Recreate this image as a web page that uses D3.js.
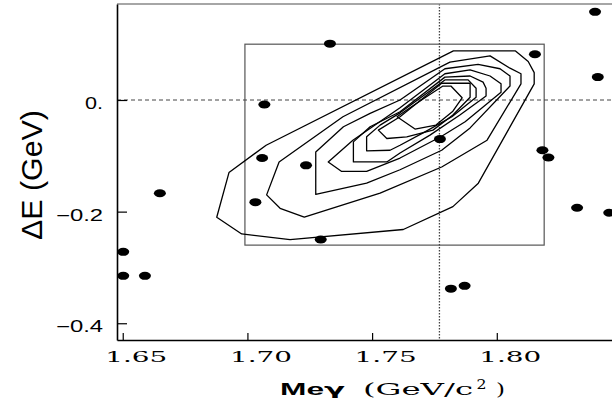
<!DOCTYPE html>
<html>
<head>
    <meta charset="utf-8">
    <title>M(e gamma) vs Delta E</title>
    <script src="https://d3js.org/d3.v7.min.js"></script>
    <style>
        body {
            margin: 0;
            background: #ffffff;
        }
        svg {
            display: block;
        }
    </style>
</head>
<body>
<script>
    // Axis ticks
    const xTicks = [1.65, 1.70, 1.75, 1.80];
    const yTicks = [0, -0.2, -0.4];

    // Nominal tau mass (dotted line) and signal box
    const tauMass = 1.777;
    const boxM = [1.699, 1.819];
    const boxE = [-0.26, 0.10];

    // Observed events: [M(e gamma), Delta E]
    const events = [
        [1.8394, 0.158], [1.8153, 0.082], [1.8405, 0.041], [1.7331, 0.101],
        [1.7068, -0.008], [1.7059, -0.104], [1.7235, -0.117], [1.7032, -0.183],
        [1.7294, -0.250], [1.7772, -0.070], [1.8183, -0.090], [1.8207, -0.103],
        [1.8322, -0.193], [1.8451, -0.202], [1.7816, -0.338], [1.7871, -0.333],
        [1.6649, -0.167], [1.6502, -0.272], [1.6502, -0.315], [1.6589, -0.315]
    ];

    // Signal MC contours, outermost first
    const contour1 = [
        [1.6877, -0.210], [1.6926, -0.130], [1.7075, -0.081], [1.7826, 0.088],
        [1.8075, 0.088], [1.8126, 0.069], [1.8150, 0.049], [1.8150, 0.029],
        [1.7926, -0.149], [1.7824, -0.191], [1.7625, -0.232], [1.7171, -0.250],
        [1.6977, -0.240]
    ];
    const contour2 = [
        [1.7077, -0.170], [1.7127, -0.111], [1.7383, -0.030], [1.7812, 0.068],
        [1.7973, 0.079], [1.8053, 0.057], [1.8097, 0.047], [1.8097, 0.029],
        [1.7961, -0.072], [1.7779, -0.120], [1.7532, -0.167], [1.7228, -0.210],
        [1.7131, -0.194]
    ];
    const contour3 = [
        [1.7274, -0.093], [1.7385, -0.048], [1.7492, -0.024], [1.7612, 0.000],
        [1.7792, 0.056], [1.7925, 0.064], [1.8013, 0.056], [1.8053, 0.043],
        [1.8053, 0.025], [1.7893, -0.050], [1.7779, -0.090], [1.7612, -0.125],
        [1.7478, -0.149], [1.7274, -0.169]
    ];
    const contour4 = [
        [1.7324, -0.111], [1.7423, -0.072], [1.7612, -0.014], [1.7792, 0.047],
        [1.7893, 0.054], [1.7973, 0.043], [1.8017, 0.029], [1.8017, 0.014],
        [1.7873, -0.039], [1.7779, -0.065], [1.7612, -0.104], [1.7478, -0.128],
        [1.7378, -0.128]
    ];
    const contour5 = [
        [1.7425, -0.075], [1.7492, -0.048], [1.7612, -0.021], [1.7792, 0.041],
        [1.7893, 0.043], [1.7945, 0.032], [1.7957, 0.021], [1.7957, 0.007],
        [1.7852, -0.027], [1.7732, -0.063], [1.7612, -0.095], [1.7559, -0.111],
        [1.7425, -0.111]
    ];
    const contour6 = [
        [1.7478, -0.066], [1.7532, -0.045], [1.7612, -0.023], [1.7792, 0.036],
        [1.7885, 0.036], [1.7917, 0.021], [1.7917, 0.005], [1.7820, -0.030],
        [1.7712, -0.057], [1.7612, -0.081], [1.7572, -0.090], [1.7478, -0.091]
    ];
    const contour7 = [
        [1.7525, -0.054], [1.7612, -0.030], [1.7779, 0.030], [1.7893, 0.030],
        [1.7893, 0.005], [1.7824, -0.027], [1.7744, -0.054], [1.7639, -0.066],
        [1.7559, -0.069]
    ];
    const contour8 = [
        [1.7600, -0.030], [1.7672, -0.052], [1.7756, -0.045], [1.7824, -0.020],
        [1.7861, 0.004], [1.7816, 0.025], [1.7784, 0.025], [1.7712, 0.004],
        [1.7652, -0.014]
    ];
    const contours = [contour1, contour2, contour3, contour4,
                      contour5, contour6, contour7, contour8];

    const width = 612;
    const height = 408;
    const plotLeft = 117, plotRight = 612, plotTop = 4, plotBottom = 340;

    const svg = d3.select("body")
        .append("svg")
        .attr("width", width)
        .attr("height", height);

    const x = d3.scaleLinear().domain([1.6477, 1.8462]).range([plotLeft, plotRight]);
    const y = d3.scaleLinear().domain([0.172, -0.430]).range([plotTop, plotBottom]);

    // signal box
    svg.append("rect")
        .attr("x", x(boxM[0]))
        .attr("y", y(boxE[1]))
        .attr("width", x(boxM[1]) - x(boxM[0]))
        .attr("height", y(boxE[0]) - y(boxE[1]))
        .attr("fill", "none")
        .attr("stroke", "#555")
        .attr("stroke-width", 1.2);

    // Delta E = 0 and M = m_tau reference lines
    svg.append("line")
        .attr("x1", plotLeft).attr("x2", plotRight)
        .attr("y1", y(0)).attr("y2", y(0))
        .attr("stroke", "#444")
        .attr("stroke-width", 1)
        .attr("stroke-dasharray", "4,3");

    svg.append("line")
        .attr("x1", x(tauMass)).attr("x2", x(tauMass))
        .attr("y1", plotTop).attr("y2", plotBottom)
        .attr("stroke", "#444")
        .attr("stroke-width", 1.3)
        .attr("stroke-dasharray", "1.5,1.5");

    // contours
    const line = d3.line()
        .x(d => x(d[0]))
        .y(d => y(d[1]))
        .curve(d3.curveLinearClosed);

    svg.selectAll("path.contour")
        .data(contours)
        .enter()
        .append("path")
        .attr("class", "contour")
        .attr("d", line)
        .attr("fill", "none")
        .attr("stroke", "#000")
        .attr("stroke-width", 1.3)
        .attr("stroke-linejoin", "round");

    // events
    svg.selectAll("ellipse")
        .data(events)
        .enter()
        .append("ellipse")
        .attr("cx", d => x(d[0]))
        .attr("cy", d => y(d[1]))
        .attr("rx", 6)
        .attr("ry", 4)
        .attr("fill", "#000");

    // top frame line
    svg.append("line")
        .attr("x1", plotLeft).attr("x2", plotRight)
        .attr("y1", plotTop).attr("y2", plotTop)
        .attr("stroke", "#888")
        .attr("stroke-width", 1.3);

    // x axis
    const xAxis = svg.append("g")
        .attr("transform", "translate(0," + plotBottom + ")")
        .call(d3.axisBottom(x)
            .tickValues(xTicks)
            .tickSizeInner(-7)
            .tickSizeOuter(0)
            .tickFormat(d3.format(".2f")));

    xAxis.select(".domain").attr("stroke", "#000").attr("stroke-width", 1.6);
    xAxis.selectAll(".tick line").attr("stroke", "#000").attr("stroke-width", 1.2);
    xAxis.selectAll("text")
        .attr("y", 22)
        .attr("dy", null)
        .attr("dx", 13)
        .attr("fill", "#000")
        .style("font-family", "'DejaVu Serif', serif")
        .style("font-size", "14px")
        .attr("textLength", 62)
        .attr("lengthAdjust", "spacingAndGlyphs");

    // y axis
    const yAxis = svg.append("g")
        .attr("transform", "translate(" + plotLeft + ",0)")
        .call(d3.axisLeft(y)
            .tickValues(yTicks)
            .tickSizeInner(-10)
            .tickSizeOuter(0)
            .tickFormat(d => d === 0 ? "0." : "\u2212" + Math.abs(d).toFixed(1)));

    yAxis.select(".domain").attr("stroke", "#000").attr("stroke-width", 1.6);
    yAxis.selectAll(".tick line").attr("stroke", "#000").attr("stroke-width", 1.2);
    yAxis.selectAll("text")
        .attr("x", -14)
        .attr("dy", null)
        .attr("y", 8.5)
        .attr("fill", "#000")
        .style("font-family", "'Liberation Sans', Arial, sans-serif")
        .style("font-size", "16px")
        .attr("textLength", d => d === 0 ? 18 : 47)
        .attr("lengthAdjust", "spacingAndGlyphs");

    // axis titles
    svg.append("text")
        .attr("transform", "translate(42,175) rotate(-90)")
        .attr("text-anchor", "middle")
        .style("font-family", "'Liberation Sans', Arial, sans-serif")
        .style("font-size", "30px")
        .attr("textLength", 130)
        .attr("lengthAdjust", "spacingAndGlyphs")
        .text("\u0394E (GeV)");

    svg.append("text")
        .attr("x", 280).attr("y", 395)
        .style("font-family", "'Liberation Sans', Arial, sans-serif")
        .style("font-size", "16px")
        .style("font-weight", "bold")
        .attr("textLength", 44)
        .attr("lengthAdjust", "spacingAndGlyphs")
        .text("Me");
    svg.append("text")
        .attr("x", 324).attr("y", 395)
        .style("font-family", "'DejaVu Sans', sans-serif")
        .style("font-size", "16px")
        .style("font-weight", "bold")
        .attr("textLength", 21)
        .attr("lengthAdjust", "spacingAndGlyphs")
        .text("\u03b3");

    const unitFont = "'DejaVu Serif', serif";
    svg.append("text")
        .attr("x", 363).attr("y", 395)
        .style("font-family", unitFont)
        .style("font-size", "17.5px")
        .attr("textLength", 110)
        .attr("lengthAdjust", "spacingAndGlyphs")
        .text("(GeV/c");
    svg.append("text")
        .attr("x", 476.5).attr("y", 389)
        .style("font-family", unitFont)
        .style("font-size", "13px")
        .attr("textLength", 10)
        .attr("lengthAdjust", "spacingAndGlyphs")
        .text("2");
    svg.append("text")
        .attr("x", 496).attr("y", 395)
        .style("font-family", unitFont)
        .style("font-size", "17.5px")
        .attr("textLength", 9)
        .attr("lengthAdjust", "spacingAndGlyphs")
        .text(")");
</script>
</body>
</html>
